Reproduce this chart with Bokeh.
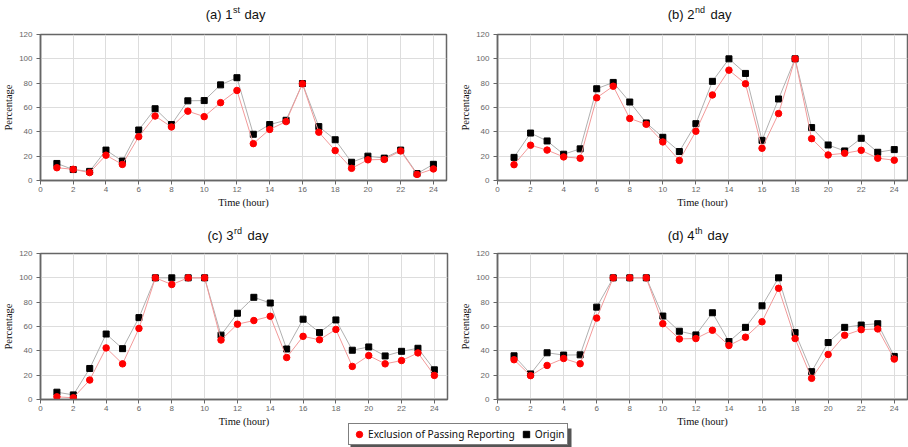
from bokeh.plotting import figure
from bokeh.models import Range1d, Label, Legend, LegendItem, BoxAnnotation, FixedTicker
from bokeh.layouts import column, row
from bokeh.embed import file_html
from bokeh.resources import INLINE

hours = list(range(1, 25))
x_ticks = list(range(0, 25, 2))
y_ticks = [0, 20, 40, 60, 80, 100, 120]

day1_origin = [14, 9, 7.5, 25, 16, 41.5, 59, 46, 65.5, 65.7, 78.6, 84.5, 38, 46, 49.5, 79.7, 44.3, 33.5, 15, 20, 18.4, 25, 5.7, 13.3]
day1_excl = [10.5, 9.2, 6.5, 20.8, 13.2, 36, 53, 44, 57, 52.5, 64, 74, 30.3, 42, 48.4, 79.5, 39.7, 24.6, 10, 17, 17.3, 24.3, 5, 9.5]

day2_origin = [19, 39, 32.5, 21.6, 26, 75.4, 80.6, 64.5, 47.3, 35.5, 23.8, 46.7, 81.5, 100, 88, 33, 67, 100, 43.5, 29.2, 24.3, 34.7, 23.2, 25.4]
day2_excl = [13, 29, 25, 19.4, 18.3, 68, 77.5, 51, 46.2, 31.7, 16.5, 40.5, 70.3, 90.7, 79.5, 26.5, 55, 100, 34.4, 21, 22.4, 24.8, 18.3, 16.7]

day3_origin = [6, 3.8, 25.5, 53.8, 41.8, 67.3, 100, 100, 100, 100, 52.9, 70.9, 84, 79.3, 41.5, 66, 55, 65.4, 40.5, 43.2, 35.8, 39.6, 42.1, 24.4]
day3_excl = [2.2, 1.4, 16, 42.4, 29.3, 58.4, 100, 94.5, 100, 100, 48.9, 61.9, 64.9, 68.4, 34.5, 51.9, 49.1, 57.6, 27.2, 36.1, 29.3, 32, 38.3, 19.8]

day4_origin = [35.9, 21, 38.4, 36.5, 36.7, 75.9, 100, 100, 100, 68.6, 56.1, 53.1, 71.3, 47.6, 59.3, 77, 100, 55, 22.9, 46.8, 59.3, 61.2, 62.3, 35.4]
day4_excl = [32.7, 19.6, 28, 33.7, 29.4, 66.9, 100, 100, 100, 62.3, 49.8, 50.1, 56.9, 44.4, 51.2, 63.9, 91.4, 50.1, 17.4, 37, 52.8, 57.4, 58, 33.2]

panel_titles = [("(a) 1", "st", "day"), ("(b) 2", "nd", "day"), ("(c) 3", "rd", "day"), ("(d) 4", "th", "day")]
legend_labels = ["Exclusion of Passing Reporting", "Origin"]

STRIP_H = 24


def title_strip(parts, x_main, base, day_off):
    t = figure(width=454, height=STRIP_H, x_range=Range1d(0, 454), y_range=Range1d(0, STRIP_H),
               output_backend="svg", toolbar_location=None, title=None,
               x_axis_location=None, y_axis_location=None, min_border=0)
    t.grid.visible = False
    t.outline_line_color = None
    main, sup, day = parts
    t.add_layout(Label(x=x_main, y=base, text=main, text_align="right", text_baseline="middle",
                       text_font="Liberation Sans", text_font_size="13px", text_color="#111111"))
    t.add_layout(Label(x=x_main + 0.5, y=base + 4.5, text=sup, text_align="left",
                       text_baseline="middle", text_font="Liberation Sans",
                       text_font_size="9px", text_color="#111111"))
    t.add_layout(Label(x=x_main + day_off, y=base, text=day, text_align="left",
                       text_baseline="middle", text_font="Liberation Sans",
                       text_font_size="13px", text_color="#111111"))
    return t


def make_panel(origin, excl, height, b_left, b_top, b_right, b_bottom):
    p = figure(width=454, height=height, x_range=Range1d(0, 24.8), y_range=Range1d(0, 120),
               output_backend="svg", toolbar_location=None, title=None,
               min_border_left=b_left, min_border_top=b_top,
               min_border_right=b_right, min_border_bottom=b_bottom)
    p.xaxis.ticker = FixedTicker(ticks=x_ticks)
    p.yaxis.ticker = FixedTicker(ticks=y_ticks)
    p.xaxis.axis_label = "Time (hour)"
    p.yaxis.axis_label = "Percentage"
    for ax in (p.xaxis[0], p.yaxis[0]):
        ax.axis_label_text_font = "Liberation Serif"
        ax.axis_label_text_font_size = "10.5px"
        ax.axis_label_text_font_style = "normal"
        ax.axis_label_text_color = "#111111"
        ax.major_label_text_font = "Liberation Sans"
        ax.major_label_text_font_size = "8px"
        ax.major_label_text_color = "#666666"
        ax.axis_line_color = "#666666"
        ax.axis_line_width = 1.5
        ax.major_tick_line_color = "#666666"
        ax.major_tick_out = 4
        ax.major_tick_in = 0
        ax.minor_tick_line_color = None
    p.xaxis.major_label_standoff = 2
    p.xaxis.axis_label_standoff = 2
    p.yaxis.major_label_standoff = 4
    p.yaxis.axis_label_standoff = 2
    p.grid.grid_line_color = "#dddddd"
    p.outline_line_color = "#666666"
    p.outline_line_width = 1.5
    p.outline_line_alpha = 1

    p.line(hours, origin, line_color="#b0b0b0", line_width=1)
    p.scatter(hours, origin, marker="square", size=6, color="black")
    p.line(hours, excl, line_color="#f29a9a", line_width=1)
    p.scatter(hours, excl, marker="circle", size=6.5, color="red")
    return p


# title strips: y is the text centre, measured up from the strip bottom
ta = title_strip(panel_titles[0], 232, 10, 12)
tb = title_strip(panel_titles[1], 240, 10, 16)
tc = title_strip(panel_titles[2], 233, 11.5, 14)
td = title_strip(panel_titles[3], 240, 11.5, 13)

pa = make_panel(day1_origin, day1_excl, 198, 36, 8, 8, 42)
pb = make_panel(day2_origin, day2_excl, 198, 43, 10, 1, 42)
pc = make_panel(day3_origin, day3_excl, 201, 36, 7, 7, 46)
pd = make_panel(day4_origin, day4_excl, 201, 43, 6, 1, 48)

# legend strip (overlaps the blank bottom margin of the lower row)
lg = figure(width=908, height=STRIP_H, x_range=Range1d(0, 908), y_range=Range1d(0, STRIP_H),
            output_backend="svg", toolbar_location=None, title=None,
            x_axis_location=None, y_axis_location=None, min_border=0,
            margin=(-STRIP_H, 0, 0, 0))
lg.grid.visible = False
lg.outline_line_color = None
lg.background_fill_alpha = 0
lg.border_fill_alpha = 0
nan = float("nan")
r1 = lg.scatter(x=[nan], y=[nan], marker="circle", size=7, color="red")
r2 = lg.scatter(x=[nan], y=[nan], marker="square", size=7, color="black")
lg.add_layout(BoxAnnotation(left=350, right=571, bottom=0, top=19, fill_color="#555555",
                            fill_alpha=1, line_color=None))
leg = Legend(items=[LegendItem(label=legend_labels[0], renderers=[r1]),
                    LegendItem(label=legend_labels[1], renderers=[r2])],
             orientation="horizontal", location=(348, 2), padding=2, spacing=3,
             glyph_width=16, glyph_height=16, label_standoff=1, margin=0,
             label_text_font="Noto Sans", label_text_font_size="10.2px",
             label_text_color="#111111", label_height=12,
             border_line_color="black", border_line_width=1,
             background_fill_color="white", background_fill_alpha=1)
lg.add_layout(leg)

layout = column(row(ta, tb), row(pa, pb), row(tc, td), row(pc, pd), lg)

with open("out.html", "w") as f:
    f.write(file_html(layout, INLINE))
